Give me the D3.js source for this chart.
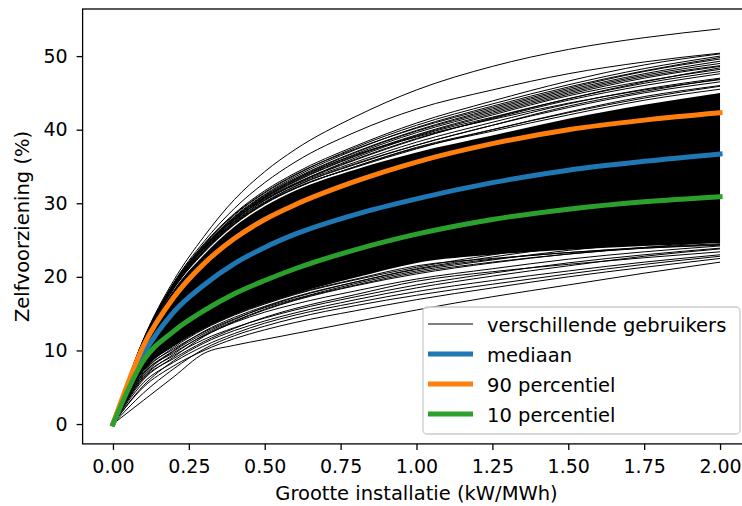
<!DOCTYPE html>
<html>
<head>
<meta charset="utf-8">
<script src="https://cdn.jsdelivr.net/npm/d3@7"></script>
<style>
  body { margin: 0; background: #fff; }
  text { font-family: "DejaVu Sans", sans-serif; fill: #000; }
</style>
</head>
<body>
<script>
// x grid (kW/MWh) shared by all curves
const xGrid = [0, 0.1, 0.2, 0.3, 0.4, 0.5, 0.6, 0.8, 1.0, 1.25, 1.5, 1.75, 2.0];

// percentile curves (%)
const mediaan = [0, 9.4, 15.2, 18.9, 21.8, 24.0, 25.8, 28.5, 30.6, 32.8, 34.5, 35.7, 36.7];
const p90 = [0, 10.6, 17.2, 21.8, 25.2, 27.8, 29.8, 33.0, 35.6, 38.1, 40.0, 41.3, 42.3];
const p10 = [0, 8.6, 12.6, 15.4, 17.7, 19.5, 21.1, 23.7, 25.8, 27.8, 29.2, 30.2, 30.9];

// dense middle of the user curves (solid black band)
const kernBoven = [0, 11.0, 18.2, 23.0, 26.8, 29.6, 31.7, 34.6, 36.9, 39.2, 41.5, 43.4, 45.0];
const kernOnder = [0, 7.2, 10.6, 13.0, 14.9, 16.4, 17.7, 19.9, 21.9, 23.0, 23.7, 24.2, 24.6];

// individual users above the dense band
const gebruikersBoven = [
  [0, 11.5, 19.5, 25.5, 30.5, 34.3, 37.3, 41.8, 45.4, 48.6, 50.9, 52.5, 53.7],
  [0, 11.4, 19.2, 24.8, 29.3, 32.8, 35.6, 39.7, 42.8, 45.4, 47.6, 49.2, 50.4],
  [0, 11.4, 19.1, 24.5, 28.6, 31.7, 34.1, 37.8, 40.9, 43.9, 46.6, 48.8, 50.3],
  [0, 11.3, 19.0, 24.3, 28.4, 31.4, 33.8, 37.6, 40.6, 43.5, 46.1, 48.3, 50.0],
  [0, 11.3, 18.9, 24.1, 28.2, 31.2, 33.6, 37.3, 40.3, 43.2, 45.8, 48.0, 49.8],
  [0, 11.3, 19.1, 24.4, 28.5, 31.5, 33.9, 37.4, 40.2, 43.0, 45.6, 47.9, 49.6],
  [0, 11.3, 18.9, 24.2, 28.1, 31.1, 33.4, 37.0, 39.9, 42.8, 45.4, 47.6, 49.3],
  [0, 11.2, 18.9, 24.0, 28.0, 31.0, 33.3, 36.9, 39.8, 42.6, 45.2, 47.4, 49.0],
  [0, 11.2, 18.9, 24.0, 28.0, 30.9, 33.1, 36.7, 39.6, 42.4, 45.0, 47.2, 48.7],
  [0, 11.3, 18.8, 23.9, 27.9, 30.8, 33.0, 36.5, 39.3, 42.2, 44.8, 47.0, 48.6],
  [0, 11.4, 19.0, 24.0, 27.8, 30.5, 32.6, 35.9, 38.7, 41.6, 44.2, 46.5, 48.4],
  [0, 11.3, 18.8, 23.9, 27.8, 30.7, 32.9, 36.4, 39.2, 42.0, 44.6, 46.6, 48.2],
  [0, 11.2, 18.6, 23.6, 27.5, 30.4, 32.6, 36.2, 39.1, 41.7, 44.2, 46.3, 47.9],
  [0, 11.2, 18.8, 23.8, 27.7, 30.6, 32.7, 36.0, 38.8, 41.5, 44.0, 46.0, 47.6],
  [0, 11.2, 18.7, 23.8, 27.5, 30.4, 32.5, 35.6, 38.3, 41.0, 43.5, 45.5, 47.0],
  [0, 11.1, 18.5, 23.5, 27.3, 30.1, 32.3, 35.4, 37.9, 40.6, 43.2, 45.2, 46.9],
  [0, 11.0, 18.4, 23.5, 27.6, 30.8, 33.2, 36.6, 39.0, 41.4, 43.6, 45.4, 46.8],
  [0, 11.2, 18.7, 23.6, 27.4, 30.2, 32.3, 35.3, 37.9, 40.6, 43.0, 45.0, 46.5],
  [0, 11.2, 18.6, 23.4, 27.2, 30.0, 32.0, 35.0, 37.6, 40.0, 42.4, 44.5, 46.0],
  [0, 11.1, 18.7, 23.5, 27.2, 30.0, 32.1, 34.9, 37.4, 40.0, 42.3, 44.3, 45.9],
  [0, 11.1, 18.4, 23.3, 27.1, 29.9, 32.0, 35.0, 37.5, 39.8, 42.0, 44.0, 45.5]
];

// individual users below the dense band
const gebruikersOnder = [
  [0, 3.2, 6.4, 9.6, 10.7, 11.5, 12.3, 13.9, 15.5, 17.3, 18.9, 20.5, 22.0],
  [0, 5.0, 7.9, 10.0, 11.6, 12.8, 13.8, 15.4, 16.9, 18.5, 20.0, 21.3, 22.5],
  [0, 5.6, 8.4, 10.6, 12.3, 13.7, 14.8, 16.5, 18.0, 19.5, 20.8, 22.0, 23.0],
  [0, 6.2, 8.9, 11.2, 13.0, 14.5, 15.7, 17.6, 19.4, 20.7, 21.7, 22.6, 23.4],
  [0, 6.5, 9.3, 11.5, 13.1, 14.4, 15.5, 17.3, 18.9, 20.5, 21.9, 23.0, 23.9],
  [0, 6.9, 9.7, 12.0, 13.8, 15.2, 16.3, 18.1, 19.7, 21.1, 22.4, 23.4, 24.2],
  [0, 6.0, 9.1, 11.9, 13.9, 15.5, 16.8, 18.8, 20.4, 21.9, 23.1, 24.0, 24.8],
  [0, 7.2, 10.2, 12.5, 14.3, 15.8, 17.0, 19.1, 20.8, 22.3, 23.6, 24.6, 25.5],
  [0, 6.6, 9.9, 12.3, 14.2, 15.9, 17.2, 19.3, 21.1, 22.7, 24.1, 25.2, 26.1],
  [0, 7.0, 10.4, 12.9, 14.8, 16.3, 17.6, 19.6, 21.3, 23.0, 24.5, 25.7, 26.6],
  [0, 5.2, 8.6, 11.0, 12.7, 14.0, 15.1, 16.9, 18.5, 20.1, 21.5, 22.8, 23.8],
  [0, 4.2, 7.5, 10.2, 12.0, 13.3, 14.4, 16.1, 17.5, 19.0, 20.4, 21.7, 22.8],
  [0, 7.4, 10.6, 13.0, 14.9, 16.4, 17.7, 19.7, 21.5, 22.5, 23.3, 23.9, 24.3],
  [0, 6.8, 10.0, 12.6, 14.5, 16.0, 17.3, 19.3, 21.0, 22.4, 23.3, 24.0, 24.5],
  [0, 6.3, 9.5, 12.1, 14.0, 15.6, 16.9, 18.9, 20.6, 22.0, 23.1, 23.9, 24.4]
];

const xTicks = [0, 0.25, 0.5, 0.75, 1.0, 1.25, 1.5, 1.75, 2.0];
const yTicks = [0, 10, 20, 30, 40, 50];

const legendItems = [
  { label: 'verschillende gebruikers', color: '#000', width: 1 },
  { label: 'mediaan', color: '#1f77b4', width: 5 },
  { label: '90 percentiel', color: '#ff7f0e', width: 5 },
  { label: '10 percentiel', color: '#2ca02c', width: 5 }
];

const width = 742, height = 506;
const plot = { left: 82.6, right: 750.4, top: 9, bottom: 443.9 };

const svg = d3.select('body').append('svg')
  .attr('width', width)
  .attr('height', height);

const x = d3.scaleLinear().domain([-0.1, 2.1]).range([plot.left, plot.right]);
const y = d3.scaleLinear().domain([-2.7, 56.4]).range([plot.bottom, plot.top]);

svg.append('clipPath').attr('id', 'clip')
  .append('rect')
  .attr('x', plot.left).attr('y', plot.top)
  .attr('width', plot.right - plot.left).attr('height', plot.bottom - plot.top);

const g = svg.append('g').attr('clip-path', 'url(#clip)');

const line = d3.line()
  .x((d, i) => x(xGrid[i]))
  .y(d => y(d))
  .curve(d3.curveMonotoneX);

const area = d3.area()
  .x((d, i) => x(xGrid[i]))
  .y0((d, i) => y(kernOnder[i]))
  .y1(d => y(d))
  .curve(d3.curveMonotoneX);

// dense band of users
g.append('path')
  .attr('d', area(kernBoven))
  .attr('fill', '#000');

// individual users
g.selectAll('.gebruiker')
  .data(gebruikersBoven.concat(gebruikersOnder))
  .enter().append('path')
  .attr('class', 'gebruiker')
  .attr('d', d => line(d))
  .attr('fill', 'none')
  .attr('stroke', '#000')
  .attr('stroke-width', 1);

// percentile curves
[[mediaan, '#1f77b4'], [p90, '#ff7f0e'], [p10, '#2ca02c']].forEach(([vals, color]) => {
  g.append('path')
    .attr('d', line(vals))
    .attr('fill', 'none')
    .attr('stroke', color)
    .attr('stroke-width', 5)
    .attr('stroke-linecap', 'square');
});

// axes
const xAxis = svg.append('g')
  .attr('transform', `translate(0,${plot.bottom})`)
  .call(d3.axisBottom(x).tickValues(xTicks).tickFormat(d3.format('.2f')).tickSize(6).tickPadding(10));

const yAxis = svg.append('g')
  .attr('transform', `translate(${plot.left},0)`)
  .call(d3.axisLeft(y).tickValues(yTicks).tickFormat(d3.format('d')).tickSize(6).tickPadding(9));

[xAxis, yAxis].forEach(ax => {
  ax.select('.domain').remove();
  ax.selectAll('line').attr('stroke', '#000').attr('stroke-width', 1.3);
  ax.selectAll('text').style('font-size', '19px').attr('fill', '#000');
});

// spines
svg.append('rect')
  .attr('x', plot.left).attr('y', plot.top)
  .attr('width', plot.right - plot.left).attr('height', plot.bottom - plot.top)
  .attr('fill', 'none')
  .attr('stroke', '#000')
  .attr('stroke-width', 1.3);

// axis labels
svg.append('text')
  .attr('x', (plot.left + plot.right) / 2)
  .attr('y', 500)
  .attr('text-anchor', 'middle')
  .style('font-size', '19.5px')
  .text('Grootte installatie (kW/MWh)');

svg.append('text')
  .attr('transform', `translate(29,${(plot.top + plot.bottom) / 2}) rotate(-90)`)
  .attr('text-anchor', 'middle')
  .style('font-size', '19.5px')
  .text('Zelfvoorziening (%)');

// legend
const legend = svg.append('g');
legend.append('rect')
  .attr('x', 423).attr('y', 307)
  .attr('width', 317).attr('height', 127)
  .attr('rx', 4)
  .attr('fill', '#fff').attr('fill-opacity', 0.8)
  .attr('stroke', '#ccc').attr('stroke-width', 1.3);

legendItems.forEach((d, i) => {
  const base = 332 + i * 30;
  legend.append('line')
    .attr('x1', 428).attr('x2', 473)
    .attr('y1', base - 8).attr('y2', base - 8)
    .attr('stroke', d.color)
    .attr('stroke-width', d.width);
  legend.append('text')
    .attr('x', 487).attr('y', base)
    .style('font-size', '19.5px')
    .text(d.label);
});
</script>
</body>
</html>
